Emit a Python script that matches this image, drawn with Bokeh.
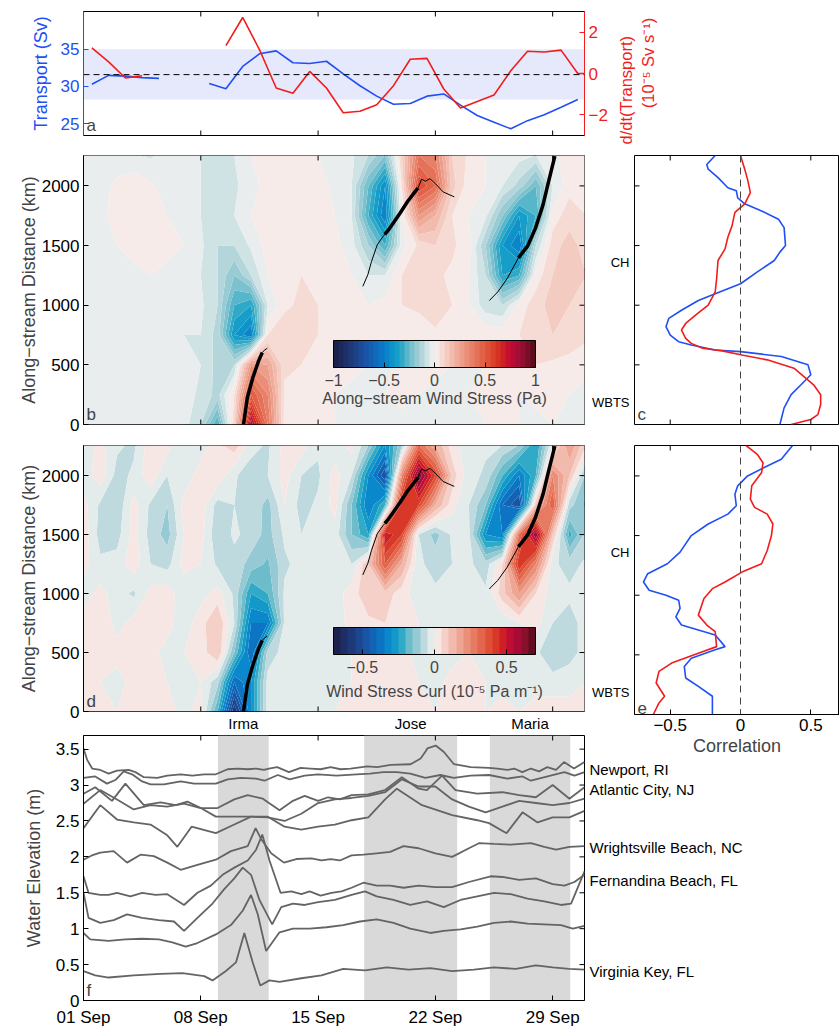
import math
import numpy as np
from bokeh.plotting import figure
from bokeh.layouts import column, row
from bokeh.models import (Range1d, LinearAxis, FixedTicker, BoxAnnotation, Span, Label,
                          ColorBar, LinearColorMapper)
from bokeh.embed import file_html
from bokeh.resources import INLINE
from bokeh.core.properties import value

FONT = "Liberation Sans"
BLUE = "#1f4ff5"
RED = "#f21c1c"
GREY_LINE = "#646464"
TICK_FS = "17px"
LABEL_FS = "18px"

# ---------------- panel a : transport ----------------
transport_day = [1.5, 2.5, 3.5, 4.5, 5.5, 6.5, 7.5, 8.5, 9.5, 10.5, 11.5, 12.5, 13.5, 14.5, 15.5,
                 16.5, 17.5, 18.5, 19.5, 20.5, 21.5, 22.5, 23.5, 24.5, 25.5, 26.5, 27.5, 28.5, 29.5, 30.5]
transport_sv = [30.3, 31.5, 31.4, 31.2, 31.1, np.nan, np.nan, 30.4, 29.7, 32.7, 34.4, 34.8, 33.2, 33.1, 33.4,
                31.7, 30.1, 28.7, 27.6, 27.7, 28.7, 29.0, 27.5, 26.1, 25.2, 24.3, 25.4, 26.2, 27.2, 28.25]
ddt_day = [1.5, 2.5, 3.5, 4.5, 5.5, 6.5, 7.5, 8.5, 9.5, 10.5, 11.5, 12.5, 13.5, 14.5, 15.5, 16.5,
           17.5, 18.5, 19.5, 20.5, 21.5, 22.5, 23.5, 24.5, 25.5, 26.5, 27.5, 28.5, 29.5, 30.5, 30.9]
ddt_val = [1.24, 0.56, -0.22, -0.11, np.nan, np.nan, np.nan, np.nan, 1.35, 2.71, 1.16, -0.70, -0.96, 0.10,
           -0.70, -1.90, -1.83, -1.51, -0.59, 0.69, 0.73, -0.75, -1.67, -1.35, -1.04, 0.13, 1.08, 1.04,
           1.13, 0.0, 0.0]
transport_band = (28.25, 35.0)
transport_ref = 31.6

# ---------------- heat-map grids (day columns, km rows) ----------------
grid_day = list(range(1, 32))
grid_km = [0, 250, 500, 750, 1000, 1250, 1500, 1750, 2000, 2260]

tau_0 = [-0.03,-0.04,-0.02,-0.04,-0.03,-0.05,-0.03,-0.10,-0.30,0.10,0.80,0.40,0.03,0.03,0.02,0.00,-0.03,-0.02,0.00,-0.02,-0.02,0.00,-0.02,-0.03,0.00,0.02,0.00,-0.02,0.00,-0.02,-0.02]
tau_250 = [-0.03,-0.02,-0.04,-0.03,-0.02,-0.04,-0.03,-0.06,-0.12,0.05,0.50,0.35,0.04,0.03,0.02,0.00,-0.02,-0.03,0.00,0.02,0.00,-0.02,-0.03,0.00,0.02,0.02,0.00,0.02,0.02,0.00,-0.02]
tau_500 = [-0.03,-0.04,-0.02,-0.04,-0.05,-0.03,-0.03,-0.05,-0.12,-0.10,0.30,0.25,0.06,0.05,0.04,0.03,0.02,0.00,-0.02,0.02,0.03,0.02,0.00,-0.02,0.00,0.02,0.03,0.05,0.04,0.02,0.02]
tau_750 = [-0.04,-0.02,-0.04,-0.05,-0.03,-0.04,-0.05,-0.05,-0.12,-0.40,-0.50,0.05,0.08,0.06,0.05,0.05,0.04,0.03,0.05,0.04,0.02,0.04,0.03,0.02,0.04,0.03,0.05,0.08,0.10,0.10,0.06]
tau_1000 = [-0.04,-0.03,0.00,-0.03,-0.05,-0.03,-0.02,-0.04,-0.10,-0.30,-0.35,-0.05,0.04,0.06,0.05,0.05,0.04,0.00,0.02,0.05,0.06,0.08,0.05,0.00,-0.08,-0.10,0.02,0.08,0.12,0.10,0.08]
tau_1250 = [-0.05,-0.02,-0.04,-0.02,0.00,-0.03,-0.04,-0.05,-0.10,-0.20,-0.10,0.00,0.04,0.05,0.04,0.03,0.00,-0.05,-0.05,0.05,0.08,0.06,0.04,0.00,-0.10,-0.35,-0.30,0.02,0.10,0.12,0.10]
tau_1500 = [-0.05,-0.03,0.00,0.03,0.04,0.03,0.00,-0.04,-0.10,-0.10,-0.04,0.02,0.04,0.05,0.03,0.02,-0.03,-0.15,-0.30,-0.02,0.06,0.10,0.06,0.02,-0.15,-0.40,-0.50,-0.10,0.08,0.12,0.08]
tau_1750 = [-0.04,-0.02,0.03,0.04,0.03,0.00,-0.03,-0.05,-0.07,-0.05,0.00,0.03,0.05,0.03,0.02,0.00,-0.05,-0.30,-0.50,0.00,0.30,0.20,0.05,0.00,-0.04,-0.20,-0.40,-0.30,0.02,0.08,0.05]
tau_2000 = [-0.04,-0.03,0.02,0.03,0.01,-0.03,-0.01,-0.05,-0.08,-0.06,-0.02,0.02,0.04,0.02,0.03,-0.02,-0.05,-0.25,-0.45,0.05,0.55,0.45,0.12,0.02,0.00,-0.05,-0.12,-0.25,-0.05,0.03,0.05]
tau_2260 = [-0.05,-0.02,-0.05,-0.04,-0.06,-0.01,0.00,-0.05,-0.07,-0.05,0.00,0.02,0.03,0.02,0.00,-0.03,-0.04,-0.10,-0.20,0.10,0.40,0.35,0.10,0.04,0.00,-0.04,-0.03,-0.05,-0.02,0.04,0.04]

curl_0 = [0.03,0.02,0.00,0.02,0.04,0.02,-0.02,0.02,-0.20,-0.60,-0.30,-0.03,-0.02,0.00,-0.02,0.00,0.02,0.03,0.03,0.00,0.02,0.00,0.03,0.02,0.00,0.02,0.00,0.02,0.03,0.02,0.03]
curl_250 = [0.02,0.00,-0.02,0.02,0.03,0.00,-0.02,0.00,-0.08,-0.40,-0.30,-0.03,-0.03,-0.02,-0.03,-0.02,0.00,0.02,0.03,0.02,0.00,-0.02,0.02,0.03,0.00,-0.02,0.00,-0.02,-0.03,-0.02,0.00]
curl_500 = [0.02,0.03,0.02,0.04,0.02,-0.02,0.00,0.02,0.10,-0.15,-0.40,-0.08,-0.03,-0.04,-0.05,-0.03,0.00,0.03,0.04,0.02,-0.02,-0.03,-0.02,0.00,-0.03,-0.03,-0.03,-0.04,-0.09,-0.07,-0.03]
curl_750 = [0.03,0.04,-0.02,0.02,0.04,0.02,-0.03,0.03,0.10,-0.05,-0.35,-0.35,-0.04,-0.03,-0.05,-0.03,0.02,0.04,0.05,0.03,0.00,-0.03,-0.03,0.00,-0.03,-0.04,0.00,0.02,-0.05,-0.07,-0.03]
curl_1000 = [-0.03,0.02,-0.03,-0.06,0.02,0.03,-0.04,-0.02,0.02,-0.06,-0.25,-0.20,-0.04,0.00,-0.03,-0.03,0.03,0.08,0.08,0.02,-0.03,-0.04,-0.03,-0.02,-0.04,0.08,0.20,0.05,-0.03,-0.04,-0.03]
curl_1250 = [0.02,-0.04,-0.03,0.03,-0.05,-0.07,0.02,0.00,-0.06,-0.07,-0.12,-0.16,-0.06,-0.03,-0.03,-0.04,-0.05,0.10,0.35,0.15,-0.04,-0.07,-0.05,-0.04,-0.08,0.05,0.45,0.25,-0.04,-0.07,-0.04]
curl_1500 = [0.03,-0.07,-0.07,0.02,-0.07,-0.12,0.00,0.02,-0.09,-0.04,-0.07,-0.12,-0.04,-0.05,-0.04,-0.02,-0.15,-0.25,0.50,0.40,-0.05,-0.12,-0.04,-0.04,-0.30,-0.35,0.30,0.60,0.10,-0.22,-0.08]
curl_1750 = [0.02,-0.06,-0.09,0.02,-0.06,-0.10,0.02,0.03,-0.07,-0.05,-0.06,-0.12,0.00,-0.07,-0.04,0.02,-0.15,-0.35,-0.20,0.45,0.40,0.15,0.02,-0.05,-0.15,-0.40,-0.50,0.10,0.35,-0.08,-0.16]
curl_2000 = [-0.03,0.03,-0.07,-0.04,0.04,-0.05,-0.04,0.03,0.04,-0.04,-0.09,-0.05,0.02,-0.05,-0.06,0.02,-0.05,-0.30,-0.50,0.25,0.65,0.40,0.08,-0.03,-0.06,-0.20,-0.35,-0.20,0.25,0.10,-0.12]
curl_2260 = [-0.04,0.02,-0.04,-0.06,0.03,0.02,-0.05,-0.03,0.04,0.08,-0.02,-0.06,0.02,0.03,-0.04,-0.03,0.02,-0.10,-0.30,-0.10,0.30,0.15,0.02,-0.03,-0.04,-0.05,-0.10,-0.25,0.00,0.20,0.05]

# ---------------- storm tracks ----------------
irma_thick_day = [10.55, 10.78, 11.11, 11.45, 11.67]
irma_thick_km = [0, 228, 394, 533, 603]
irma_thin_day = [11.67, 11.79, 11.97]
irma_thin_km = [603, 622, 639]
jose_thin_a_day = [17.67, 17.97, 18.19, 18.53, 18.87, 18.98]
jose_thin_a_km = [1158, 1256, 1367, 1506, 1575, 1594]
jose_thick_day = [18.98, 19.2, 19.54, 19.88, 20.33, 20.78, 20.96]
jose_thick_km = [1594, 1631, 1700, 1769, 1867, 1950, 1983]
jose_thin_b_day = [20.96, 21.18, 21.4, 21.67, 22.0, 22.46, 23.13]
jose_thin_b_km = [1983, 2056, 2039, 2061, 2019, 1950, 1908]
maria_thin_day = [25.22, 25.72, 26.28, 26.96]
maria_thin_km = [1039, 1111, 1222, 1397]
maria_thick_day = [26.96, 27.52, 27.97, 28.42, 28.75, 29.13]
maria_thick_km = [1397, 1500, 1644, 1839, 2033, 2250]

# ---------------- correlation profiles ----------------
c_blue_km = [2255, 2180, 2140, 2070, 1985, 1960, 1900, 1850, 1790, 1720, 1650, 1500, 1445, 1375, 1280, 1180,
             1097, 1040, 958, 890, 820, 750, 694, 667, 625, 611, 570, 500, 417, 333, 250, 139, 0]
c_blue_r = [-0.18, -0.24, -0.23, -0.16, -0.09, -0.03, -0.02, 0.03, 0.15, 0.27, 0.31, 0.32, 0.28, 0.24, 0.12, 0.0,
            -0.18, -0.30, -0.42, -0.51, -0.53, -0.50, -0.44, -0.35, -0.18, 0.0, 0.29, 0.48, 0.50, 0.43, 0.36, 0.31, 0.28]
c_red_km = [2255, 2140, 2055, 1944, 1850, 1778, 1667, 1570, 1472, 1375, 1222, 1111, 1000, 917, 847, 792, 722,
            680, 639, 617, 583, 542, 472, 333, 250, 167, 83, 42, 0]
c_red_r = [0.0, 0.03, 0.05, 0.07, 0.03, -0.04, -0.06, -0.09, -0.11, -0.16, -0.17, -0.18, -0.23, -0.32, -0.39,
           -0.42, -0.39, -0.35, -0.27, -0.13, 0.01, 0.19, 0.38, 0.52, 0.57, 0.57, 0.55, 0.50, 0.36]
e_blue_km = [2255, 2140, 2083, 2000, 1917, 1847, 1750, 1680, 1597, 1500, 1361, 1264, 1180, 1111, 1042, 1000,
             958, 889, 819, 750, 667, 569, 542, 472, 403, 306, 236, 153, 0]
e_blue_r = [0.37, 0.29, 0.19, 0.05, -0.02, -0.04, -0.03, -0.09, -0.23, -0.35, -0.43, -0.52, -0.66, -0.69, -0.65,
            -0.53, -0.44, -0.43, -0.46, -0.42, -0.18, -0.11, -0.18, -0.35, -0.40, -0.39, -0.30, -0.20, -0.20]
e_red_km = [2255, 2180, 2111, 2028, 1917, 1806, 1736, 1680, 1597, 1500, 1375, 1264, 1194, 1111, 1055, 972, 833,
            750, 694, 569, 514, 431, 361, 264, 153, 97, 0]
e_red_r = [0.04, 0.12, 0.16, 0.15, 0.08, 0.07, 0.10, 0.19, 0.23, 0.22, 0.19, 0.15, 0.01, -0.11, -0.20, -0.26,
           -0.30, -0.24, -0.18, -0.17, -0.30, -0.49, -0.58, -0.60, -0.54, -0.58, -0.62]
section_names = ["WBTS", "CH"]
section_km = [186, 1360]

# ---------------- panel f : water elevation ----------------
f1_day = [1.0,1.22,1.52,2.0,2.5,3.0,3.7,4.1,4.6,5.4,6.0,6.8,7.5,8.2,8.9,9.6,10.2,10.8,11.3,11.77,12.06,12.56,13.26,13.96,14.55,15.15,15.75,16.34,16.94,17.94,18.53,19.33,20.52,21.12,21.42,21.52,22.02,22.51,23.11,24.11,25.2,25.7,26.29,26.7,27.19,27.7,28.19,28.68,29.2,29.68,30.27,30.9]
f1_m = [3.51,3.35,3.23,3.21,3.16,3.2,3.21,3.18,3.11,3.1,3.13,3.15,3.13,3.15,3.15,3.22,3.23,3.22,3.23,3.21,3.23,3.25,3.18,3.24,3.23,3.22,3.25,3.22,3.23,3.26,3.25,3.28,3.29,3.37,3.47,3.51,3.55,3.46,3.29,3.25,3.24,3.23,3.21,3.23,3.18,3.23,3.19,3.25,3.21,3.32,3.23,3.32]
f2_day = [1.0,1.7,2.4,2.9,3.4,3.9,4.5,5.0,5.8,6.8,7.6,8.9,9.6,10.4,11.3,11.8,12.6,13.3,14.2,15.0,16.1,17.3,18.1,18.9,19.7,20.5,21.4,22.3,23.1,24.1,25.2,26.3,27.2,27.7,28.7,29.7,30.3,30.9]
f2_m = [3.10,3.12,3.02,3.07,3.19,3.15,3.05,3.01,3.01,3.05,3.02,3.02,3.08,3.10,3.09,3.06,3.14,3.08,3.13,3.15,3.13,3.15,3.16,3.18,3.18,3.16,3.10,3.14,3.10,3.13,3.14,3.09,3.12,3.06,3.12,3.18,3.13,3.18]
f3_day = [1.0,1.7,2.7,3.5,4.6,5.6,6.5,7.2,8.0,9.0,10.0,10.8,11.7,12.7,13.5,14.2,15.0,15.6,16.3,17.0,18.0,19.0,20.0,21.0,21.5,22.4,23.2,24.5,26.0,27.0,28.0,29.0,30.0,30.9]
f3_m = [2.88,2.97,2.78,3.02,2.72,2.76,2.72,2.77,2.68,2.68,2.80,2.86,2.81,2.65,2.78,2.85,2.78,2.83,2.80,2.86,2.87,2.93,3.11,2.95,2.93,3.13,2.93,2.88,2.90,2.86,2.83,3.0,2.81,2.97]
f4_day = [1,2,3,4,5,6,7,8,8.9,10,11,12,13,14,15,16,17,18,19,20,21,22,23,24,25,26,27,28,29,30,30.9]
f4_m = [2.74,2.93,2.80,2.66,2.72,2.70,2.74,2.68,2.56,2.56,2.56,2.55,2.50,2.60,2.75,2.80,2.82,2.85,2.90,3.08,2.98,2.98,2.80,2.70,2.62,2.70,2.78,2.75,2.72,2.75,2.81]
f5_day = [1,2,3,4,5,6,6.6,7.45,8.9,10,11,12,13,14,15,16,17,18,19,19.7,21.2,23,24.5,25.2,26.25,27.2,28.1,29.0,30.0,30.9]
f5_m = [2.40,2.72,2.52,2.48,2.45,2.30,2.14,2.42,2.33,2.45,2.56,2.56,2.42,2.38,2.42,2.45,2.51,2.55,2.80,2.95,2.72,2.58,2.51,2.47,2.33,2.62,2.48,2.55,2.55,2.64]
f6_day = [1,1.5,2.0,2.8,3.6,4.4,5.2,6.0,6.8,7.8,8.9,9.8,10.8,11.27,11.6,12.2,12.96,13.7,14.6,15.2,15.75,16.3,17.0,17.7,18.5,19.3,20.1,21.0,22.0,23.0,24.0,24.6,25.5,26.5,27.7,28.5,29.2,30.0,30.9]
f6_m = [1.96,2.02,2.06,2.08,1.92,2.03,2.01,1.92,1.82,1.89,1.96,2.08,2.15,2.40,2.25,2.05,1.92,1.97,1.98,1.95,1.97,1.95,2.02,2.03,2.05,2.07,2.15,2.12,2.05,2.00,2.12,2.19,2.18,2.17,2.19,2.14,2.10,2.14,2.15]
f7_day = [1,1.3,2,2.5,3,3.8,4.5,5.3,6,7,7.8,8.6,9.3,10,10.8,11.3,11.67,12.1,12.76,13.4,14.0,14.5,15.15,15.8,16.4,17.0,17.7,18.5,19.3,20.1,21,22,23,24,25.3,26,27,28,29,29.7,30.3,30.9]
f7_m = [1.73,1.5,1.47,1.47,1.5,1.45,1.5,1.47,1.48,1.33,1.5,1.6,1.75,1.85,1.95,2.1,2.31,1.95,1.5,1.52,1.48,1.52,1.46,1.5,1.52,1.57,1.64,1.6,1.6,1.57,1.6,1.58,1.58,1.65,1.73,1.72,1.68,1.7,1.62,1.6,1.65,1.75]
f8_day = [1,1.3,2,2.8,3.6,4.5,5.5,6.4,7.0,7.8,8.7,9.4,10,10.5,11.0,11.5,12.26,12.8,13.5,14.2,15,16,17,17.8,18.5,19.5,20.5,21.5,22.5,23.5,24.5,25.5,26.5,27.5,28.5,29.5,30.1,30.9]
f8_m = [1.5,1.15,1.08,1.12,1.2,1.15,1.12,1.1,0.97,1.15,1.35,1.55,1.7,1.85,1.75,1.4,1.06,1.3,1.35,1.33,1.37,1.4,1.47,1.52,1.45,1.4,1.33,1.38,1.3,1.4,1.45,1.5,1.48,1.42,1.38,1.33,1.35,1.8]
f9_day = [1,1.4,2.5,3.5,4.5,5.5,6.3,7.1,7.8,8.9,9.8,10.5,11.0,11.4,11.9,12.7,13.5,14.5,15.5,16.5,17.5,18.5,19.5,20.5,21.7,22.5,23.5,24.5,25.5,26.5,27.5,28.5,29.5,30.2,30.9]
f9_m = [0.94,0.85,0.83,0.85,0.86,0.85,0.81,0.75,0.8,0.92,1.05,1.25,1.47,1.2,0.69,0.95,1.0,1.0,1.02,1.05,1.1,1.13,1.08,1.0,0.94,0.97,0.99,1.03,1.08,1.1,1.07,1.06,1.05,1.0,1.04]
f10_day = [1,1.7,2.5,4,5.6,6.9,8.2,8.7,9.5,10.1,10.6,11.1,11.55,12.1,12.7,14,15.2,16.5,17.8,19.1,20.4,21.7,23,24.3,25.5,26.8,28,29,30,30.9]
f10_m = [0.41,0.35,0.32,0.35,0.37,0.38,0.34,0.28,0.41,0.53,0.94,0.53,0.21,0.28,0.26,0.31,0.35,0.44,0.42,0.46,0.43,0.45,0.41,0.43,0.46,0.44,0.49,0.46,0.44,0.43]

storm_names = ["Irma", "Jose", "Maria"]
storm_start = [9.02, 17.75, 25.25]
storm_end = [12.05, 23.3, 30.05]
stations = ["Newport, RI", "Atlantic City, NJ", "Wrightsville Beach, NC", "Fernandina Beach, FL", "Virginia Key, FL"]
station_label_m = [3.215, 2.945, 2.135, 1.675, 0.42]

date_ticks = [1, 8, 15, 22, 29]
date_labels = ["01 Sep", "08 Sep", "15 Sep", "22 Sep", "29 Sep"]
week_ticks = [8, 15, 22, 29]

# ---------------- colour map (balance-like) ----------------
cmap_pos = [-1.0, -0.85, -0.7, -0.55, -0.45, -0.35, -0.25, -0.15, -0.07, 0.0, 0.07, 0.15, 0.25,
            0.35, 0.45, 0.55, 0.65, 0.72, 0.8, 0.9, 1.0]
cmap_hex = ["#1b1d45", "#1f3470", "#1b4fa0", "#0d6fc2", "#0a8ccc", "#1aa3c6", "#6cbccb", "#a6d0d7",
            "#d2e3e5", "#f6f3f2", "#f6dcd6", "#f3c3b7", "#eea592", "#e98770", "#e46a50", "#de4a30",
            "#d22a20", "#c8102e", "#b00a3a", "#85102a", "#4e0a1a"]


def build_palette(n, vmax):
    edges = np.linspace(-vmax, vmax, n + 1)
    centres = (edges[:-1] + edges[1:]) / 2 / vmax
    rgb = np.array([[int(h[i:i + 2], 16) for i in (1, 3, 5)] for h in cmap_hex], float)
    out = []
    for t in centres:
        c = [int(round(np.interp(t, cmap_pos, rgb[:, k]))) for k in range(3)]
        out.append("#%02x%02x%02x" % tuple(c))
    return out, list(edges)


pal_b, lev_b = build_palette(40, 1.0)
pal_d, lev_d = build_palette(28, 0.7)

# ---------------- layout constants (page margin is 0 in Bokeh's template) ----------------
TOTAL_W = 839
LEFT_W = 588
RIGHT_W = TOTAL_W - LEFT_W
B_LEFT = 83
FRAME_W = 501
X_RANGE = (1, 30.9)
KM_RANGE = (0, 2255)
F_YMAX = 3.69
C_LEFT = 44
CORR_RANGE = (-0.754, 0.704)


def base_fig(w, h, xr, yr, bl, br, bt, bb):
    p = figure(width=w, height=h, x_range=Range1d(*xr), y_range=Range1d(*yr),
               output_backend="svg", toolbar_location=None,
               x_axis_location=None, y_axis_location=None,
               min_border_left=bl, min_border_right=br, min_border_top=bt, min_border_bottom=bb)
    p.xgrid.visible = False
    p.ygrid.visible = False
    p.outline_line_color = "black"
    p.outline_line_width = 1
    p.background_fill_color = "white"
    p.border_fill_color = "white"
    return p


def mk_axis(ticks, labels, size=TICK_FS, color="black", line_color="black", tick_len=5,
            show_line=True, **kw):
    ax = LinearAxis(ticker=FixedTicker(ticks=ticks), **kw)
    ax.minor_tick_line_color = None
    ax.major_tick_in = tick_len
    ax.major_tick_out = 0
    ax.major_tick_line_color = line_color if tick_len else None
    ax.axis_line_color = line_color if show_line else None
    ax.major_label_text_font = FONT
    ax.axis_label_text_font = FONT
    ax.axis_label_text_font_style = "normal"
    ax.axis_label_text_font_size = LABEL_FS
    ax.major_label_text_font_size = size
    ax.major_label_text_color = color
    ax.major_label_overrides = {t: l for t, l in zip(ticks, labels)}
    ax.major_label_standoff = 4
    return ax


def inner_ticks(p, side, ticks):
    """MATLAB-style inward tick marks on an unlabelled side of the frame."""
    n = len(ticks)
    xr, yr = p.x_range, p.y_range
    if side == "below":
        p.ray(x=ticks, y=[yr.start] * n, length=5, length_units="screen", angle=math.pi / 2,
              color="black", line_width=1)
    elif side == "above":
        p.ray(x=ticks, y=[yr.end] * n, length=5, length_units="screen", angle=-math.pi / 2,
              color="black", line_width=1)
    elif side == "left":
        p.ray(x=[xr.start] * n, y=ticks, length=5, length_units="screen", angle=0,
              color="black", line_width=1)
    else:
        p.ray(x=[xr.end] * n, y=ticks, length=5, length_units="screen", angle=math.pi,
              color="black", line_width=1)


def panel_letter(p, letter, x0, y0):
    p.add_layout(Label(x=x0, y=y0, text=letter, x_offset=3, y_offset=1, text_font=FONT,
                       text_font_size="17px", text_baseline="bottom"))


# ================= panel a =================
fa = base_fig(TOTAL_W, 148, X_RANGE, (23.4, 40.1), B_LEFT, TOTAL_W - B_LEFT - FRAME_W, 11, 13)
fa.extra_y_ranges = {"d": Range1d(-3, 3)}
fa.add_layout(BoxAnnotation(bottom=transport_band[0], top=transport_band[1], fill_color="#e6e9fb",
                            fill_alpha=1, line_color=None, level="underlay"))
fa.add_layout(Span(location=transport_ref, dimension="width", line_color="black",
                   line_dash="6 4", line_width=1))
fa.line(transport_day, transport_sv, color=BLUE, line_width=1.6)
fa.line(ddt_day, ddt_val, color=RED, line_width=1.6, y_range_name="d")
ax = mk_axis([25, 30, 35], ["25", "30", "35"], color=BLUE, line_color=BLUE)
ax.axis_label = "Transport (Sv)"
ax.axis_label_text_color = BLUE
ax.axis_label_standoff = 7
fa.add_layout(ax, "left")
fa.add_layout(mk_axis([-2, 0, 2], ["\u22122", "0", "2"], color=RED, line_color=RED, y_range_name="d"),
              "right")
# right-hand title, two lines reading upward
for txt, so in [("d/dt(Transport)", 16), ("(10\u207b\u2075 Sv s\u207b\u00b9)", 1)]:
    ax = mk_axis([0], [txt], size="16.5px", color=RED, tick_len=0, show_line=False, y_range_name="d")
    ax.major_label_orientation = math.pi / 2
    ax.major_label_standoff = so
    fa.add_layout(ax, "right")
inner_ticks(fa, "below", week_ticks)
inner_ticks(fa, "above", week_ticks)
panel_letter(fa, "a", X_RANGE[0], 23.4)


# ================= panels b / d =================
def heat_panel(rows, levels, palette, cb_ticks, cb_title, letter, h, bb, storms_below):
    p = base_fig(LEFT_W, h, X_RANGE, KM_RANGE, B_LEFT, LEFT_W - B_LEFT - FRAME_W, 7, bb)
    z = np.array(rows)
    p.contour(x=grid_day, y=grid_km, z=z, levels=levels, fill_color=palette, line_color=None)
    for d, k in [(irma_thin_day, irma_thin_km), (jose_thin_a_day, jose_thin_a_km),
                 (jose_thin_b_day, jose_thin_b_km), (maria_thin_day, maria_thin_km)]:
        p.line(d, k, color="black", line_width=1)
    for d, k in [(irma_thick_day, irma_thick_km), (jose_thick_day, jose_thick_km),
                 (maria_thick_day, maria_thick_km)]:
        p.line(d, k, color="black", line_width=3.5)
    mapper = LinearColorMapper(palette=palette, low=levels[0], high=levels[-1])
    cb = ColorBar(color_mapper=mapper, orientation="horizontal", location=(250, 36), width=202, height=27,
                  padding=0, margin=0, label_standoff=6, background_fill_alpha=0, border_line_color=None,
                  bar_line_color="black", bar_line_width=1, major_tick_in=5, major_tick_out=0,
                  major_tick_line_color="black", minor_tick_line_color=None,
                  ticker=FixedTicker(ticks=cb_ticks),
                  major_label_overrides={t: ("\u2212" + str(abs(t)) if t < 0 else str(t)) for t in cb_ticks},
                  major_label_text_font=FONT, major_label_text_font_size="16px")
    p.add_layout(cb)
    p.add_layout(Label(x=21.95, y=cb_title[1], text=cb_title[0], text_align="center",
                       text_baseline="middle", text_font=FONT, text_font_size="16px"))
    ax = mk_axis([0, 500, 1000, 1500, 2000], ["0", "500", "1000", "1500", "2000"])
    ax.axis_label = "Along\u2212stream Distance (km)"
    ax.axis_label_standoff = 0
    p.add_layout(ax, "left")
    inner_ticks(p, "right", [500, 1000, 1500, 2000])
    inner_ticks(p, "below", week_ticks)
    inner_ticks(p, "above", week_ticks)
    if storms_below:
        mids = [(s + e) / 2 for s, e in zip(storm_start, storm_end)]
        ax = mk_axis(mids, storm_names, size="15px", tick_len=0, show_line=False)
        ax.major_label_standoff = 3
        p.add_layout(ax, "below")
    panel_letter(p, letter, X_RANGE[0], KM_RANGE[0])
    return p


fb = heat_panel([tau_0, tau_250, tau_500, tau_750, tau_1000, tau_1250, tau_1500, tau_1750, tau_2000, tau_2260],
                lev_b, pal_b, [-1, -0.5, 0, 0.5, 1], ("Along\u2212stream Wind Stress (Pa)", 214), "b",
                290, 14, False)
fd = heat_panel([curl_0, curl_250, curl_500, curl_750, curl_1000, curl_1250, curl_1500, curl_1750, curl_2000, curl_2260],
                lev_d, pal_d, [-0.5, 0, 0.5],
                ("Wind Stress Curl (10\u207b\u2075 Pa m\u207b\u00b9)", 167), "d", 296, 20, True)


# ================= panels c / e =================
def corr_panel(br, rb, bk, rk, letter, h, bb, labelled):
    p = base_fig(RIGHT_W, h, CORR_RANGE, KM_RANGE, C_LEFT, 0, 7, bb)
    p.add_layout(Span(location=0, dimension="height", line_color="#454545", line_dash="7 5", line_width=1))
    p.line(br, bk, color=BLUE, line_width=1.6)
    p.line(rb, rk, color=RED, line_width=1.6)
    inner_ticks(p, "left", [500, 1000, 1500, 2000])
    ax = mk_axis(section_km, section_names, size="13px", tick_len=0, show_line=False)
    ax.major_label_standoff = 5
    p.add_layout(ax, "left")
    if labelled:
        ax = mk_axis([-0.5, 0, 0.5], ["\u22120.5", "0", "0.5"])
        ax.axis_label = "Correlation"
        ax.axis_label_standoff = 2
        p.add_layout(ax, "below")
    else:
        inner_ticks(p, "below", [-0.5, 0, 0.5])
    inner_ticks(p, "above", [-0.5, 0, 0.5])
    panel_letter(p, letter, CORR_RANGE[0], KM_RANGE[0])
    return p


fc = corr_panel(c_blue_r, c_red_r, c_blue_km, c_red_km, "c", 290, 14, False)
fe = corr_panel(e_blue_r, e_red_r, e_blue_km, e_red_km, "e", 324, 48, True)

# ================= panel f =================
F_H, F_BT, F_BB = 295, 1, 28
ff = base_fig(LEFT_W, F_H, X_RANGE, (0, F_YMAX), B_LEFT, LEFT_W - B_LEFT - FRAME_W, F_BT, F_BB)
for s, e in zip(storm_start, storm_end):
    ff.add_layout(BoxAnnotation(left=s, right=e, fill_color="#d9d9d9", fill_alpha=1, line_color=None,
                                level="underlay"))
for d, m in [(f1_day, f1_m), (f2_day, f2_m), (f3_day, f3_m), (f4_day, f4_m), (f5_day, f5_m),
             (f6_day, f6_m), (f7_day, f7_m), (f8_day, f8_m), (f9_day, f9_m), (f10_day, f10_m)]:
    ff.line(d, m, color=GREY_LINE, line_width=1.8)
yt = [0, 0.5, 1, 1.5, 2, 2.5, 3, 3.5]
ax = mk_axis(yt, ["0", "0.5", "1", "1.5", "2", "2.5", "3", "3.5"])
ax.axis_label = "Water Elevation (m)"
ax.axis_label_standoff = 9
ff.add_layout(ax, "left")
ax = mk_axis(date_ticks, date_labels)
ax.major_label_standoff = 7
ff.add_layout(ax, "below")
inner_ticks(ff, "above", week_ticks)
inner_ticks(ff, "right", yt[1:])
panel_letter(ff, "f", X_RANGE[0], 0)

# station names, on panel f's elevation scale, in a strip right of panel f
LAB_H = 267
f_frame_h = F_H - F_BT - F_BB
lab_frame_h = LAB_H - F_BB
flab = base_fig(RIGHT_W, LAB_H, (0, 1), (0, F_YMAX * lab_frame_h / f_frame_h), 0, 0, 0, F_BB)
flab.outline_line_color = None
flab.text(x=[0] * len(stations), y=station_label_m, text=stations, text_font=value(FONT),
          text_font_size="15px", text_baseline="middle", x_offset=1)

layout = column(fa, row(column(fb, fd, ff), column(column(fc, fe), flab)))
open("out.html", "w").write(file_html(layout, INLINE, title="Gulf Stream transport and hurricanes"))
